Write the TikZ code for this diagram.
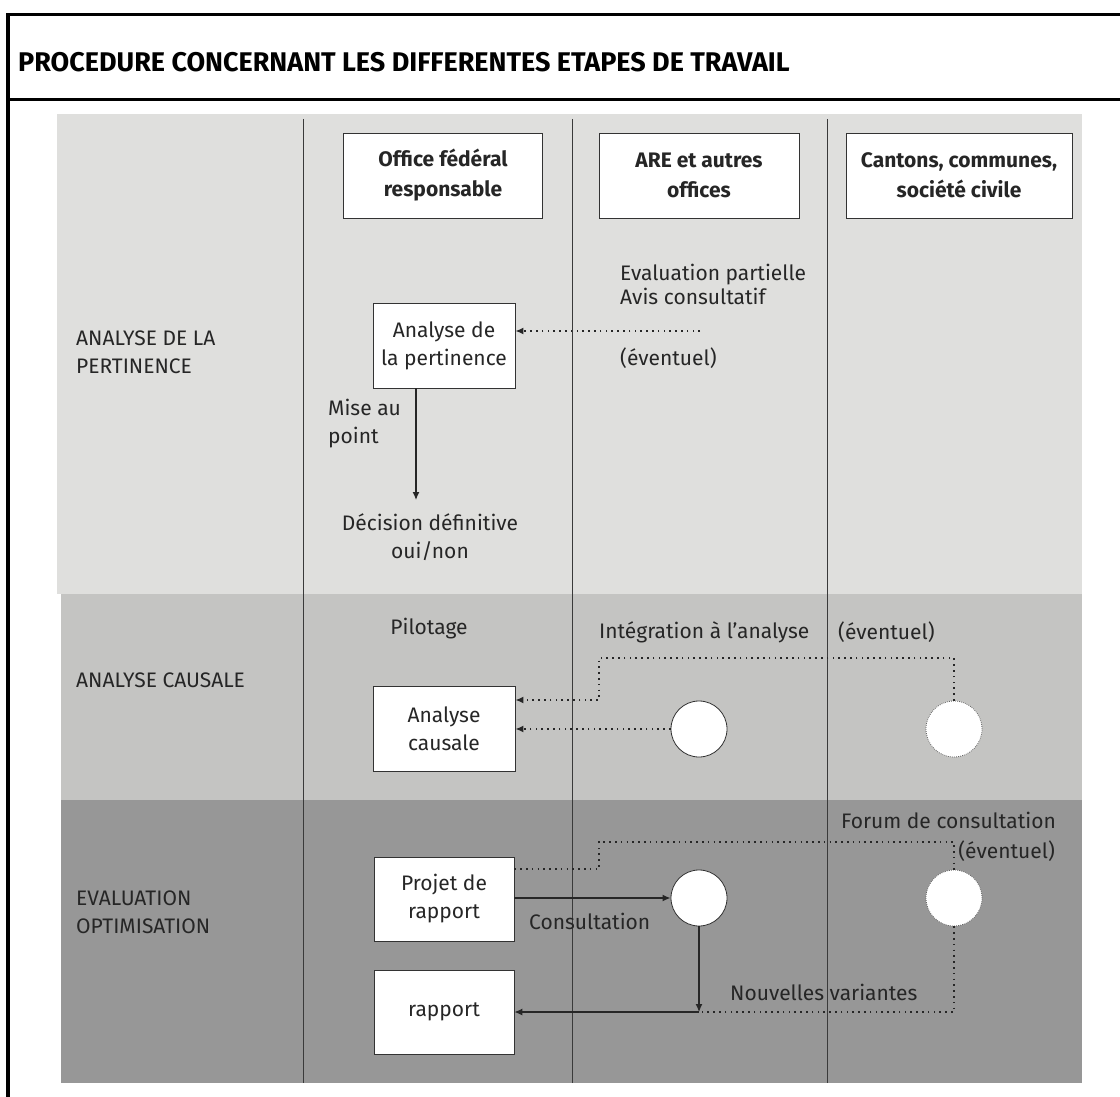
\documentclass[tikz,border=0pt]{standalone}
\usepackage{fontspec}
\setmainfont{Fira Sans}
\usepackage{xcolor}
\usetikzlibrary{arrows.meta}
\usetikzlibrary{positioning}
\usetikzlibrary{calc}
\definecolor{bandlight}{HTML}{DFDFDD}
\definecolor{bandmid}{HTML}{C4C4C2}
\definecolor{banddark}{HTML}{979797}
\definecolor{laneline}{HTML}{3A3A3A}

\begin{document}
\begin{tikzpicture}[x=1pt, y=-1pt,
		every node/.style={font=\fontsize{21}{28}\selectfont, text=black!85, inner sep=0pt},
		task/.style={draw=black!80, fill=white, line width=0.8pt, minimum width=142pt, minimum height=85pt, align=center},
		actor/.style={task, font=\fontsize{21}{30}\selectfont\bfseries},
		hub/.style={circle, draw=black!80, fill=white, line width=0.8pt, minimum size=56pt},
		hubopt/.style={hub, draw=black!60, dash pattern=on 0.8pt off 1.2pt},
		dots/.style={line width=1.6pt, dash pattern=on 1.6pt off 4.2pt, draw=black!85},
		tip/.style={-{Latex[length=8pt, width=7pt]}},
		flow/.style={line width=1.5pt, draw=black!85},
		lbl/.style={anchor=west, align=left}]
	\useasboundingbox (0,0) rectangle (1120,1097);

	% bands
	\fill[bandlight] (57,114) rectangle (1082,594);
	\fill[bandmid] (61,594) rectangle (1082,800);
	\fill[banddark] (61,800) rectangle (1082,1083);
	\foreach \x in {303, 572, 827}
	{
		\draw[laneline, line width=0.9pt] (\x,119) -- (\x,1083);
	}

	% frame and title
	\draw[line width=3.5pt] (1120,14.5) -- (8,14.5) -- (8,1097);
	\draw[line width=3pt] (8,100) -- (1120,100);
	\node[anchor=west, font=\fontsize{27}{30}\selectfont\bfseries, text=black] (title) at (18,62) {PROCEDURE CONCERNANT LES DIFFERENTES ETAPES DE TRAVAIL};

	% actors
	\node[actor, minimum width=199pt] (office) at (443,175.5) {Office fédéral\\responsable};
	\node[actor, minimum width=200pt] (are) at (699,175.5) {ARE et autres\\offices};
	\node[actor, minimum width=226pt] (cantons) at (959,175.5) {Cantons, communes,\\société civile};

	% row labels
	\node[lbl] (rowpert) at (76,352) {ANALYSE DE LA\\PERTINENCE};
	\node[lbl] (rowcause) at (76,680) {ANALYSE CAUSALE};
	\node[lbl] (roweval) at (76,912) {EVALUATION\\OPTIMISATION};

	% analyse de la pertinence
	\node[task] (pert) at (444,345.5) {Analyse de\\la pertinence};
	\node[lbl, font=\fontsize{21}{24}\selectfont] (evalpart) at (620,284) {Evaluation partielle\\Avis consultatif};
	\node[lbl] (opt1) at (620,358) {(éventuel)};
	\coordinate (evalend) at (700,331);
	\draw[dots, tip] (evalend) -- (evalend -| pert.east);
	\node[lbl] (miseau) at (328,424) {Mise au\\point};
	\coordinate (decide) at (416,500);
	\draw[flow, line width=1.2pt, tip] (decide |- pert.south) -- (decide);
	\node[align=center] (decision) at (430,537) {Décision définitive\\oui/non};

	% analyse causale
	\node (pilot) at (429,629) {Pilotage};
	\node[task] (cause) at (444,728.5) {Analyse\\causale};
	\node[hub] (are1) at (699,729) {};
	\node[hubopt] (cant1) at (954,729) {};
	\node[lbl] (integ) at (599,632) {Intégration à l’analyse};
	\node[lbl] (opt2) at (838,632) {(éventuel)};
	\coordinate (integtop) at (599,658);
	\coordinate (integlow) at (599,700);
	\draw[dots, tip] (cant1.north) |- (integtop) -- (integlow) -- (integlow -| cause.east);
	\draw[dots, tip] (are1.west) -- (cause.east |- are1.west);

	% evaluation optimisation
	\node[task, minimum width=140pt, minimum height=84pt] (draft) at (444,899) {Projet de\\rapport};
	\node[task, minimum width=140pt, minimum height=84pt] (report) at (444,1012) {rapport};
	\node[hub] (are2) at (699,898) {};
	\node[hubopt] (cant2) at (954,898) {};
	\node[anchor=east] (forum) at (1056,820) {Forum de consultation};
	\node[anchor=east] (opt3) at (1055,851) {(éventuel)};
	\coordinate (forumlow) at (599,869);
	\coordinate (forumtop) at (599,842);
	\draw[dots] (forumlow -| draft.east) -- (forumlow) -- (forumtop) -| (cant2.north);
	\draw[flow, tip] (draft.east |- are2.west) -- (are2.west);
	\node[lbl] (consult) at (529,921) {Consultation};
	\coordinate (variant) at (699,1012);
	\draw[flow, line width=1.2pt, tip] (are2.south) -- (variant);
	\draw[flow, line width=1.2pt, tip] (variant) -- (report.east);
	\draw[dots] (cant2.south) |- (variant);
	\node[lbl] (newvar) at (730,992) {Nouvelles variantes};
\end{tikzpicture}
\end{document}
